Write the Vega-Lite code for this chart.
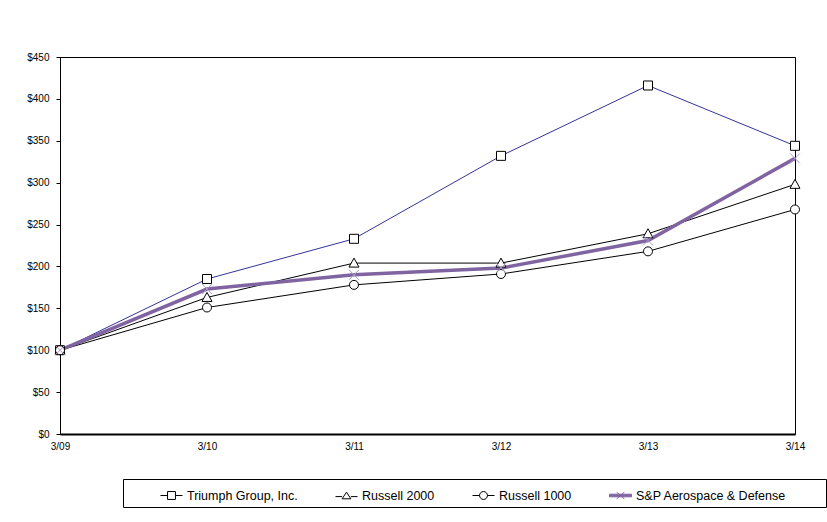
{
  "$schema": "https://vega.github.io/schema/vega-lite/v6.json",
  "width": 735,
  "height": 377,
  "autosize": {"type": "none"},
  "padding": {"left": 60, "top": 57, "right": 32, "bottom": 88},
  "background": "white",
  "config": {
    "font": "Liberation Sans",
    "view": {"stroke": "black", "strokeWidth": 1}
  },
  "data": {
    "values": [
      {"date": "3/09", "series": "Triumph Group, Inc.", "value": 100},
      {"date": "3/10", "series": "Triumph Group, Inc.", "value": 185},
      {"date": "3/11", "series": "Triumph Group, Inc.", "value": 233},
      {"date": "3/12", "series": "Triumph Group, Inc.", "value": 332},
      {"date": "3/13", "series": "Triumph Group, Inc.", "value": 416},
      {"date": "3/14", "series": "Triumph Group, Inc.", "value": 344},
      {"date": "3/09", "series": "Russell 2000", "value": 100},
      {"date": "3/10", "series": "Russell 2000", "value": 163},
      {"date": "3/11", "series": "Russell 2000", "value": 204},
      {"date": "3/12", "series": "Russell 2000", "value": 204},
      {"date": "3/13", "series": "Russell 2000", "value": 239},
      {"date": "3/14", "series": "Russell 2000", "value": 298},
      {"date": "3/09", "series": "Russell 1000", "value": 100},
      {"date": "3/10", "series": "Russell 1000", "value": 151},
      {"date": "3/11", "series": "Russell 1000", "value": 178},
      {"date": "3/12", "series": "Russell 1000", "value": 191},
      {"date": "3/13", "series": "Russell 1000", "value": 218},
      {"date": "3/14", "series": "Russell 1000", "value": 268},
      {"date": "3/09", "series": "S&P Aerospace & Defense", "value": 100},
      {"date": "3/10", "series": "S&P Aerospace & Defense", "value": 173},
      {"date": "3/11", "series": "S&P Aerospace & Defense", "value": 190},
      {"date": "3/12", "series": "S&P Aerospace & Defense", "value": 198},
      {"date": "3/13", "series": "S&P Aerospace & Defense", "value": 231},
      {"date": "3/14", "series": "S&P Aerospace & Defense", "value": 329}
    ]
  },
  "encoding": {
    "x": {
      "field": "date", "type": "ordinal", "sort": null,
      "scale": {"type": "point", "padding": 0},
      "axis": {
        "title": null, "labelAngle": 0, "ticks": false, "labelPadding": 7,
        "labelFontSize": 10, "labelColor": "black", "labelFont": "Liberation Sans",
        "domainColor": "black", "domainWidth": 2, "grid": false
      }
    },
    "y": {
      "field": "value", "type": "quantitative",
      "scale": {"domain": [0, 450], "nice": false, "zero": true},
      "axis": {
        "title": null, "values": [0, 50, 100, 150, 200, 250, 300, 350, 400, 450],
        "format": "$,.0f", "tickSize": 4, "labelPadding": 7, "tickColor": "black",
        "labelFontSize": 10, "labelColor": "black", "labelFont": "Liberation Sans",
        "domainColor": "black", "domainWidth": 1, "grid": false
      }
    }
  },
  "resolve": {"scale": {"shape": "independent", "stroke": "independent", "fill": "independent", "color": "independent"}},
  "layer": [
    {
      "transform": [{"filter": "datum.series != 'S&P Aerospace & Defense'"}],
      "mark": {"type": "line", "interpolate": "linear", "strokeWidth": 1},
      "encoding": {
        "color": {
          "field": "series", "type": "nominal", "sort": null,
          "scale": {
            "domain": ["Triumph Group, Inc.", "Russell 2000", "Russell 1000"],
            "range": ["#333399", "#000000", "#000000"]
          },
          "legend": null
        }
      }
    },
    {
      "transform": [{"filter": "datum.series == 'S&P Aerospace & Defense'"}],
      "mark": {"type": "line", "interpolate": "linear", "strokeWidth": 3.5, "color": "#8064A2"},
      "encoding": {}
    },
    {
      "mark": {"type": "point", "filled": false, "fill": "white", "fillOpacity": 1, "opacity": 1, "strokeWidth": 1, "size": 400},
      "encoding": {
        "shape": {
          "field": "series", "type": "nominal", "sort": null,
          "scale": {
            "domain": ["Triumph Group, Inc.", "Russell 2000", "Russell 1000", "S&P Aerospace & Defense"],
            "range": [
              "M-0.45,-0.45H0.45V0.45H-0.45Z",
              "M0,-0.5L0.5,0.4H-0.5Z",
              "M-0.45,0A0.45,0.45 0 1,1 0.45,0A0.45,0.45 0 1,1 -0.45,0Z",
              "M-0.5,-0.5L0.5,0.5M-0.5,0.5L0.5,-0.5"
            ]
          },
          "legend": null
        },
        "stroke": {
          "field": "series", "type": "nominal", "sort": null,
          "scale": {
            "domain": ["Triumph Group, Inc.", "Russell 2000", "Russell 1000", "S&P Aerospace & Defense"],
            "range": ["#000000", "#000000", "#000000", "#A99DC8"]
          },
          "legend": null
        }
      }
    },
    {
      "mark": {"type": "point", "opacity": 0, "strokeWidth": 1, "size": 484},
      "encoding": {
        "shape": {
          "field": "series", "type": "nominal", "sort": null,
          "scale": {
            "domain": ["Triumph Group, Inc.", "Russell 2000", "Russell 1000", "S&P Aerospace & Defense"],
            "range": [
              "M-1,0H-0.36M0.36,0H1M-0.36,-0.36H0.36V0.36H-0.36Z",
              "M-1,0.1H-0.4M0.4,0.1H1M0,-0.3L0.4,0.3H-0.4Z",
              "M-1,0H-0.36M0.36,0H1M-0.36,0A0.36,0.36 0 1,1 0.36,0A0.36,0.36 0 1,1 -0.36,0Z",
              "M-1,-0.12H1V0.12H-1ZM-0.35,-0.3L0.35,0.3M-0.35,0.3L0.35,-0.3"
            ]
          },
          "legend": {
            "title": "\u00a0",
            "titleOrient": "left",
            "titlePadding": 32,
            "titleFontSize": 12,
            "orient": "none",
            "legendX": 63,
            "legendY": 422,
            "direction": "horizontal",
            "columns": 4,
            "columnPadding": 35,
            "padding": 5,
            "strokeColor": "black",
            "fillColor": "white",
            "symbolSize": 484,
            "symbolStrokeWidth": 1,
            "symbolOpacity": 1,
            "labelOffset": 4,
            "labelFontSize": 12.5,
            "labelColor": "black",
            "labelFont": "Liberation Sans",
            "labelLimit": 400,
            "labelExpr": "datum.label == 'S&P Aerospace & Defense' ? datum.label + '\u00a0\u00a0\u00a0\u00a0\u00a0\u00a0\u00a0\u2800' : datum.label"
          }
        },
        "fill": {
          "field": "series", "type": "nominal", "sort": null,
          "scale": {
            "domain": ["Triumph Group, Inc.", "Russell 2000", "Russell 1000", "S&P Aerospace & Defense"],
            "range": ["#ffffff", "#ffffff", "#ffffff", "#8064A2"]
          }
        },
        "stroke": {
          "field": "series", "type": "nominal", "sort": null,
          "scale": {
            "domain": ["Triumph Group, Inc.", "Russell 2000", "Russell 1000", "S&P Aerospace & Defense"],
            "range": ["#000000", "#000000", "#000000", "#8064A2"]
          }
        }
      }
    }
  ]
}
